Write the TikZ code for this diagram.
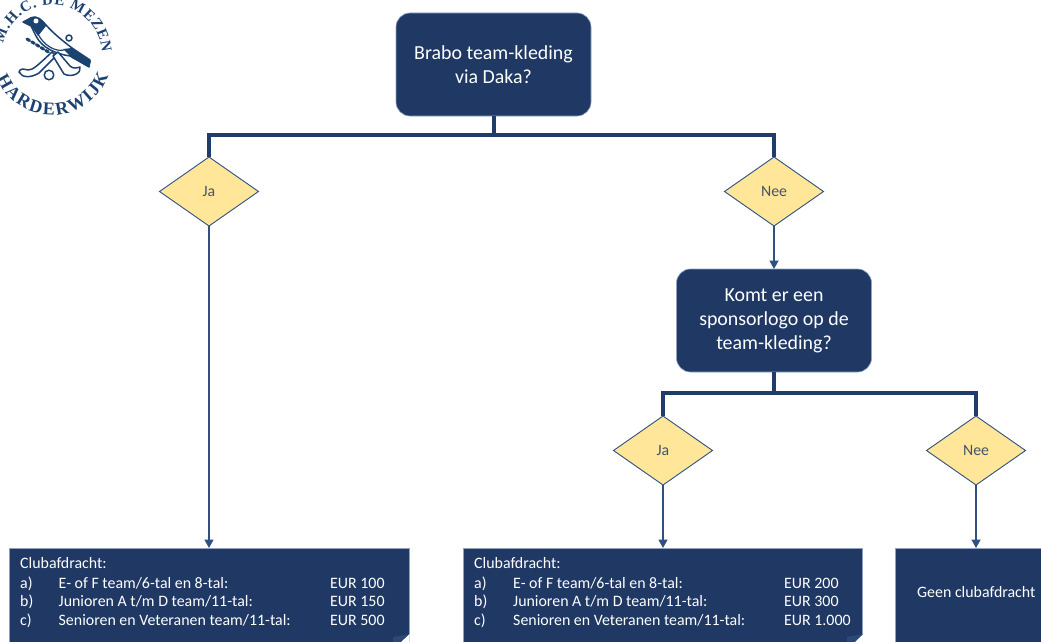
\documentclass[tikz,border=0pt]{standalone}
\usepackage{fontspec}
\setmainfont{Carlito}
\newfontfamily\logofont[Scale=1]{Liberation Serif}
\usetikzlibrary{shapes.geometric,arrows.meta,decorations.text}
\definecolor{navy}{HTML}{1F3864}
\definecolor{gold}{HTML}{FFE699}
\definecolor{edge}{HTML}{2F5080}
\definecolor{soft}{HTML}{8FA2BF}
\definecolor{logoblue}{HTML}{1C4270}
\definecolor{inktxt}{HTML}{44546A}
\tikzset{
  x=1pt,y=-1pt,
  question/.style={draw=soft,line width=.6pt,fill=navy,rounded corners=14pt,text=white,align=center,
    font=\fontsize{19.9}{24}\selectfont,minimum width=195pt,minimum height=103pt,inner sep=0pt,outer sep=0pt},
  choice/.style={shape=diamond,draw=edge,line width=.9pt,fill=gold,text=inktxt,inner sep=0pt,outer sep=0pt,
    minimum width=99pt,minimum height=69pt,shape aspect=1.435,font=\fontsize{15.8}{18}\selectfont},
  result/.style={draw=soft,line width=.6pt,fill=navy,minimum height=110pt,inner sep=0pt,outer sep=0pt},
  cell/.style={anchor=base west,text=white,inner sep=0pt,font=\fontsize{15.9}{18}\selectfont},
  bus/.style={draw=navy!85!edge,line width=3.2pt},
  flow/.style={draw=edge,line width=1.7pt,-{Stealth[length=8.5pt,width=9pt,inset=0pt]}},
  foldcut/.style={fill=white,draw=none},
  fold/.style={fill=edge!70!navy,draw=none},
  logoline/.style={draw=logoblue,line width=1.5pt,line join=round,line cap=round},
}
\begin{document}
\begin{tikzpicture}
\useasboundingbox (0,0) rectangle (1041,642);
\clip (0,0) rectangle (1041,642);
% logo
\path[decorate,decoration={text along path,text align={fit to path},
  text={|\logofont\bfseries\fontsize{15}{18}\selectfont\color{logoblue}|M.H.C. DE MEZEN}}]
  (52,55) ++(193:50) arc[start angle=193,end angle=357,radius=50];
\path[decorate,decoration={text along path,text align={fit to path},
  text={|\logofont\bfseries\fontsize{18}{20}\selectfont\color{logoblue}|HARDERWIJK}}]
  (52,55) ++(157:60) arc[start angle=157,end angle=20,radius=60];
\draw[logoline,fill=white] (23,22) -- (31,18) .. controls (37,15) and (42,20) .. (46,25) .. controls (54,34) and (63,41) .. (72,48) -- (90,60) -- (89,67) -- (70,56) .. controls (56,54) and (42,48) .. (36,36) -- (31,26) -- cycle;
\fill[logoblue] (63,49) -- (72,48) -- (91,61) -- (89,67) -- (72,58) -- cycle;
\fill[logoblue] (31,17) .. controls (38,15) and (42,20) .. (46,26) -- (38,36) -- (31,26) -- (23,22) -- cycle;
\fill[white] (36,21) circle[radius=2.5];
\draw[logoline,line width=3pt,dash pattern=on 3pt off 2.5pt] (27,39) -- (50,53);
\draw[logoline,line width=1.2pt] (38,34) .. controls (44,46) and (56,52) .. (64,50);
\draw[logoline,fill=white] (69,38) circle[radius=3];
\draw[logoline,fill=white] (52,52) -- (56,56) -- (39,73) .. controls (31,78) and (22,78) .. (19,72) .. controls (20,68) and (24,69) .. (28,70) .. controls (33,70) and (37,66) .. cycle;
\draw[logoline,fill=white] (53,56) -- (58,52) -- (70,66) .. controls (73,69) and (77,68) .. (80,67) .. controls (82,73) and (72,78) .. (64,74) -- cycle;
\draw[logoline,fill=white] (49,75) circle[radius=4.8];
% nodes
\node[question] (q1) at (493.5,64.5) {\raisebox{-1pt}{Brabo team-kleding}\\\raisebox{-1pt}{via Daka?}};
\node[question] (q2) at (774,320.5) {Komt er een\\sponsorlogo op de\\team-kleding?};
\node[choice] (ja1) at (209,191.5) {Ja};
\node[choice] (nee1) at (774,191.5) {Nee};
\node[choice] (ja2) at (663,450.5) {Ja};
\node[choice] (nee2) at (976,450.5) {Nee};
\node[result,anchor=north west,minimum width=400pt] (r1) at (9,548) {};
\node[result,anchor=north west,minimum width=399pt] (r2) at (463,548) {};
\node[result,anchor=north west,minimum width=160pt] (r3) at (895.5,548) {};
\coordinate (r1top) at (209,548);
\coordinate (r2top) at (663,548);
\coordinate (r3top) at (976,548);
\coordinate (bus1) at (494,135);
\coordinate (bus2) at (774,393);
% connectors
\draw[bus] (q1.south -| bus1) -- (bus1);
\draw[bus] (ja1.north) |- (bus1) -| (nee1.north);
\draw[bus] (q2.south) -- (bus2);
\draw[bus] (ja2.north) |- (bus2) -| (nee2.north);
\draw[flow] (ja1.south) -- (r1top);
\draw[flow] (nee1.south) -- (q2.north);
\draw[flow] (ja2.south) -- (r2top);
\draw[flow] (nee2.south) -- (r3top);
% folded corners
\fill[foldcut] (409.5,634) -- (409.5,643) -- (400,643) -- cycle;
\fill[fold] (393,637) -- (409,634) -- (400,642) -- (393,642) -- cycle;
\fill[foldcut] (863,634) -- (863,643) -- (854,643) -- cycle;
\fill[fold] (847,637) -- (863,634) -- (854,642) -- (847,642) -- cycle;
% texts
\node[cell] (t1) at (20,568.5) {Clubafdracht:};
\node[cell] (t1a) at (20,588) {a)};
\node[cell] (t1at) at (58.5,588) {E- of F team/6-tal en 8-tal:};
\node[cell] (t1ae) at (330,588) {EUR 100};
\node[cell] (t1b) at (20,606.5) {b)};
\node[cell] (t1bt) at (58.5,606.5) {Junioren A t/m D team/11-tal:};
\node[cell] (t1be) at (330,606.5) {EUR 150};
\node[cell] (t1c) at (20,625) {c)};
\node[cell] (t1ct) at (58.5,625) {Senioren en Veteranen team/11-tal:};
\node[cell] (t1ce) at (330,625) {EUR 500};
\node[cell] (t2) at (474,568.5) {Clubafdracht:};
\node[cell] (t2a) at (474,588) {a)};
\node[cell] (t2at) at (513,588) {E- of F team/6-tal en 8-tal:};
\node[cell] (t2ae) at (784,588) {EUR 200};
\node[cell] (t2b) at (474,606.5) {b)};
\node[cell] (t2bt) at (513,606.5) {Junioren A t/m D team/11-tal:};
\node[cell] (t2be) at (784,606.5) {EUR 300};
\node[cell] (t2c) at (474,625) {c)};
\node[cell] (t2ct) at (513,625) {Senioren en Veteranen team/11-tal:};
\node[cell] (t2ce) at (784,625) {EUR 1.000};
\node[cell] (t3) at (917,597) {Geen clubafdracht};
\end{tikzpicture}
\end{document}
